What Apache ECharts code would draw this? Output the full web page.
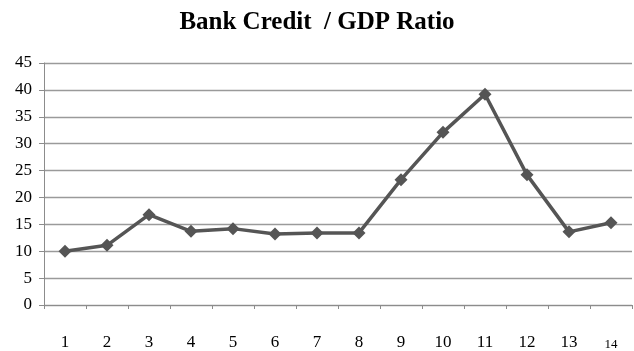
<!DOCTYPE html>
<html>
<head>
<meta charset="utf-8">
<script src="https://cdn.jsdelivr.net/npm/echarts@6/dist/echarts.min.js"></script>
<style>
  html, body { margin: 0; padding: 0; background: #fff; }
  #chart { width: 634px; height: 351px; }
</style>
</head>
<body>
<div id="chart"></div>
<script>
// Periods on the horizontal axis
var categories = ['1', '2', '3', '4', '5', '6', '7', '8', '9', '10', '11', '12', '13', '14'];
// Bank credit as a share of GDP
var creditRatio = [10.0, 11.1, 16.8, 13.7, 14.2, 13.2, 13.4, 13.4, 23.3, 32.1, 39.2, 24.2, 13.6, 15.3];
// Vertical axis range
var yTicks = { min: 0, max: 45, step: 5 };

var serif = '"Liberation Serif", "Times New Roman", serif';

var chart = echarts.init(document.getElementById('chart'), null, { renderer: 'canvas' });
chart.setOption({
  animation: false,
  backgroundColor: '#ffffff',
  title: {
    text: 'Bank Credit  / GDP Ratio',
    left: 'center',
    top: 5,
    textStyle: { fontFamily: serif, fontSize: 25, fontWeight: 'bold', color: '#000' }
  },
  grid: { left: 44, right: 2, top: 63, bottom: 46, containLabel: false },
  xAxis: {
    type: 'category',
    data: categories,
    boundaryGap: true,
    axisLine: { lineStyle: { color: '#8c8c8c', width: 1 } },
    axisTick: { show: true, alignWithLabel: false, length: 4, lineStyle: { color: '#8c8c8c' } },
    axisLabel: {
      margin: 29,
      interval: 0,
      fontFamily: serif,
      fontSize: 17,
      color: '#000',
      formatter: function (v, i) {
        return i === categories.length - 1 ? '{s|' + v + '}' : v;
      },
      rich: { s: { fontFamily: serif, fontSize: 13, color: '#000', padding: [4, 0, 0, 0] } }
    },
    splitLine: { show: false }
  },
  yAxis: {
    type: 'value',
    min: yTicks.min,
    max: yTicks.max,
    interval: yTicks.step,
    axisLine: { show: true, lineStyle: { color: '#8c8c8c', width: 1 } },
    axisTick: { show: true, length: 5, lineStyle: { color: '#8c8c8c' } },
    axisLabel: { margin: 12, fontFamily: serif, fontSize: 17, color: '#000' },
    splitLine: { show: true, lineStyle: { color: '#9a9a9a', width: 1.4 } }
  },
  series: [{
    type: 'line',
    data: creditRatio,
    symbol: 'diamond',
    symbolSize: 13,
    lineStyle: { color: '#555555', width: 3.5 },
    itemStyle: { color: '#555555' },
    emphasis: { disabled: true }
  }]
});
</script>
</body>
</html>
